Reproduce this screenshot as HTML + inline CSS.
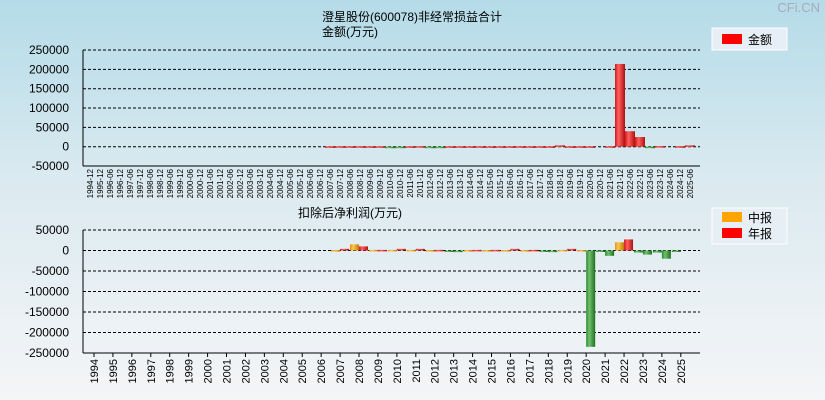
<!DOCTYPE html>
<html><head><meta charset="utf-8"><style>
body{margin:0;width:825px;height:400px;overflow:hidden;font-family:"Liberation Sans","Noto Sans CJK SC",sans-serif}
#bg{position:absolute;left:0;top:0;width:825px;height:400px;background:linear-gradient(#b4dbe8,#dbeaf0 45%,#f4f5f7)}
svg{position:absolute;left:0;top:0}
</style></head><body>
<div id="bg"></div>
<svg id="c" width="825" height="400">
<defs>
<linearGradient id="gr" x1="0" x2="1"><stop offset="0" stop-color="#d01818"/><stop offset=".35" stop-color="#ff6060"/><stop offset="1" stop-color="#b01010"/></linearGradient>
<linearGradient id="gg" x1="0" x2="1"><stop offset="0" stop-color="#2a8a2a"/><stop offset=".35" stop-color="#70c070"/><stop offset="1" stop-color="#1f701f"/></linearGradient>
<linearGradient id="go" x1="0" x2="1"><stop offset="0" stop-color="#e09010"/><stop offset=".35" stop-color="#ffc850"/><stop offset="1" stop-color="#c07a08"/></linearGradient>
</defs>
</svg>
<script>
const topCats=["1994-12","1995-12","1996-06","1996-12","1997-06","1997-12","1998-06","1998-12","1999-06","1999-12","2000-06","2000-12","2001-06","2001-12","2002-06","2002-12","2003-06","2003-12","2004-06","2004-12","2005-06","2005-12","2006-06","2006-12","2007-06","2007-12","2008-06","2008-12","2009-06","2009-12","2010-06","2010-12","2011-06","2011-12","2012-06","2012-12","2013-06","2013-12","2014-06","2014-12","2015-06","2015-12","2016-06","2016-12","2017-06","2017-12","2018-06","2018-12","2019-06","2019-12","2020-06","2020-12","2021-06","2021-12","2022-06","2022-12","2023-06","2023-12","2024-06","2024-12","2025-06"];
const topVals=[0,0,0,0,0,0,0,0,0,0,0,0,0,0,0,0,0,0,0,0,0,0,0,0,800,1000,900,1000,800,900,-1500,-1500,800,1200,-1500,-1500,800,900,800,900,700,800,800,900,800,900,800,3500,800,900,800,0,1000,214000,40000,25000,-1500,1500,0,1000,3500];
const topTicks=[250000,200000,150000,100000,50000,0,-50000];
const botYears=[1994,1995,1996,1997,1998,1999,2000,2001,2002,2003,2004,2005,2006,2007,2008,2009,2010,2011,2012,2013,2014,2015,2016,2017,2018,2019,2020,2021,2022,2023,2024,2025];
const midVals=[0,0,0,0,0,0,0,0,0,0,0,0,0,1000,15000,1500,1500,1500,1000,-1000,1000,1000,1000,1000,-1000,1500,1000,-3000,20000,-5000,-5000,-3000];
const annVals=[0,0,0,0,0,0,0,0,0,0,0,0,0,4000,10000,1500,4000,4000,1500,-4000,1500,1500,4000,1500,-4000,4000,-235000,-13000,27000,-10000,-20000,0];
const botTicks=[50000,0,-50000,-100000,-150000,-200000,-250000];
const NS="http://www.w3.org/2000/svg",svg=document.getElementById('c');
function mk(t,a,p){const e=document.createElementNS(NS,t);for(const k in a)e.setAttribute(k,a[k]);(p||svg).appendChild(e);return e;}
function txt(x,y,s,a){const e=mk('text',Object.assign({x:x,y:y,'font-size':12,fill:'#000'},a||{}));e.textContent=s;return e;}
const L=83,R=700;
// titles
let t=txt(412,21,'澄星股份(600078)非经常损益合计',{'text-anchor':'middle'});
t=txt(350,36,'金额(万元)',{'text-anchor':'middle'});
t=txt(350,217,'扣除后净利润(万元)',{'text-anchor':'middle'});
t=txt(820,12,'CFi.CN',{'text-anchor':'end','font-size':13,fill:'#aab'});
// top chart
const ty=v=>146.7-(v/300000)*116;
topTicks.forEach(v=>{const y=ty(v);
 const g=mk('line',{x1:L,x2:R,y1:y,y2:y,stroke:'#000','stroke-dasharray':'3,2'});
 const l=txt(L-14,y+4,String(v),{'text-anchor':'end','font-size':12});});
let a=mk('line',{x1:L,x2:L,y1:ty(250000),y2:ty(-50000),stroke:'#000'});
a=mk('line',{x1:L,x2:R,y1:166,y2:166,stroke:'#000'});
topCats.forEach((c,i)=>{const cx=90+10*i,v=topVals[i];
 if(v!==0){const y0=ty(0),y1=ty(v);const b=mk('rect',{x:cx-5,y:Math.min(y0,y1),width:10,height:Math.max(1.5,Math.abs(y1-y0)),fill:v>0?'url(#gr)':'url(#gg)'});}
 const l=txt(0,0,c,{'font-size':8,transform:`translate(${cx+3},169) rotate(-90)`,'text-anchor':'end'});});
// top legend
let lg=mk('rect',{x:712,y:28,width:75,height:22,fill:'#e6eef6',stroke:'#fff'});
lg=mk('rect',{x:722,y:34,width:20,height:10,fill:'#ff0000'});
lg=txt(748,44,'金额');
// bottom chart
const by=v=>250.5-(v/300000)*123;
botTicks.forEach(v=>{const y=by(v);
 const g=mk('line',{x1:L,x2:R,y1:y,y2:y,stroke:'#000','stroke-dasharray':'3,2'});
 const l=txt(L-14,y+4,String(v),{'text-anchor':'end','font-size':12});});
a=mk('line',{x1:L,x2:L,y1:by(50000),y2:by(-250000),stroke:'#000'});
a=mk('line',{x1:L,x2:R,y1:by(-250000),y2:by(-250000),stroke:'#000'});
const step=18.93;
botYears.forEach((yr,i)=>{const cx=94+step*i;
 [[midVals[i],cx-9,'url(#go)','mid'],[annVals[i],cx,'url(#gr)','annual']].forEach(([v,x,f,n])=>{
  if(v===0)return;const y0=by(0),y1=by(v);
  const b=mk('rect',{x:x,y:Math.min(y0,y1),width:9,height:Math.max(1.5,Math.abs(y1-y0)),fill:v>0?f:'url(#gg)'});
  });
 const tk=mk('line',{x1:cx,x2:cx,y1:by(-250000),y2:by(-250000)+4,stroke:'#000'});
 const l=txt(0,0,String(yr),{'font-size':11,transform:`translate(${cx+4},359) rotate(-90)`,'text-anchor':'end'});});
lg=mk('rect',{x:712,y:208,width:75,height:36,fill:'#e6eef6',stroke:'#fff'});
lg=mk('rect',{x:722,y:212,width:20,height:10,fill:'#ffa500'});
lg=txt(748,222,'中报');
lg=mk('rect',{x:722,y:228,width:20,height:10,fill:'#ff0000'});
lg=txt(748,238,'年报');
</script>
</body></html>
